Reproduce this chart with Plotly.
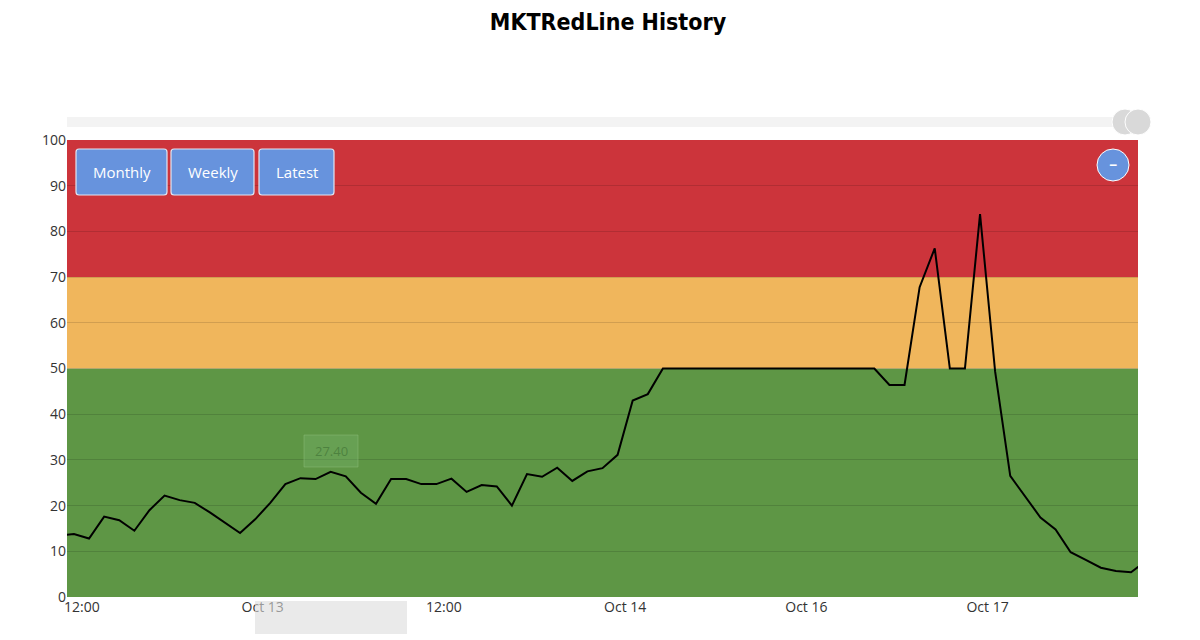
import plotly.graph_objects as go

# hourly readings (index = hour step from start of window)
idx = list(range(-1, 72))
redline = [13.4, 13.8, 12.8, 17.6, 16.8, 14.5, 19.0, 22.2, 21.2, 20.6, 18.5,
           16.3, 14.0, 17.0, 20.6, 24.7, 26.0, 25.8, 27.4, 26.4, 22.8,
           20.4, 25.8, 25.8, 24.7, 24.7, 25.9, 23.0, 24.5, 24.2, 20.0,
           26.9, 26.3, 28.3, 25.4, 27.5, 28.2, 31.1, 43.0, 44.4, 50.0,
           50, 50, 50, 50, 50, 50, 50, 50, 50, 50, 50, 50, 50, 50,
           46.4, 46.4, 67.8, 76.3, 50, 50, 83.8, 49.3, 26.5, 21.9,
           17.4, 14.8, 9.8, 8.1, 6.4, 5.7, 5.4, 7.9]

tick_pos = [0.53, 12.5, 24.5, 36.5, 48.5, 60.5]
tick_text = ["12:00", "Oct 13", "12:00", "Oct 14", "Oct 16", "Oct 17"]

bands = [(0, 50, "#5e9645"), (50, 70, "#f0b65c"), (70, 100, "#cc343b")]

button_labels = ["Monthly", "Weekly", "Latest"]
button_x = [(76, 167), (171, 254), (259, 334)]

W, H = 1071, 457  # plot area size in px


def px(x):
    return (x - 67) / W


def py(y):
    return (597 - y) / H


fig = go.Figure()
fig.add_trace(go.Scatter(x=idx, y=redline, mode="lines",
                         line=dict(color="black", width=2), hoverinfo="y"))

shapes = [dict(type="rect", xref="x domain", yref="y", x0=0, x1=1, y0=lo, y1=hi,
               fillcolor=c, line=dict(width=0), layer="below") for lo, hi, c in bands]
# top scrollbar + grips
shapes.append(dict(type="rect", xref="paper", yref="paper", x0=0, x1=1.0, y0=py(127), y1=py(117),
                   fillcolor="#f3f3f3", line=dict(width=0)))
for gx in [1125, 1138]:
    shapes.append(dict(type="circle", xref="paper", yref="paper",
                       x0=px(gx - 13), x1=px(gx + 13), y0=py(135), y1=py(109),
                       fillcolor="#d9d9d9", line=dict(color="white", width=1)))
# zoom-out button
shapes.append(dict(type="circle", xref="paper", yref="paper",
                   x0=px(1097), x1=px(1129), y0=py(181), y1=py(149),
                   fillcolor="#6793dd", line=dict(color="white", width=1)))
# tooltip box
shapes.append(dict(type="rect", xref="paper", yref="paper",
                   x0=px(304), x1=px(358), y0=py(467), y1=py(435),
                   fillcolor="rgba(120,180,110,0.35)", line=dict(color="rgba(140,190,120,0.5)", width=1)))
# bottom cursor label
shapes.append(dict(type="rect", xref="paper", yref="paper",
                   x0=px(255), x1=px(407), y0=py(634), y1=py(601),
                   fillcolor="rgba(220,220,220,0.6)", line=dict(width=0)))

# period buttons (drawn as boxes)
annotations = []
for lab, (x0, x1) in zip(button_labels, button_x):
    shapes.append(dict(type="path", xref="paper", yref="paper",
                       path=f"M {px(x0)},{py(152)} L {px(x0)},{py(192)} Q {px(x0)},{py(195)} {px(x0 + 3)},{py(195)} "
                            f"L {px(x1 - 3)},{py(195)} Q {px(x1)},{py(195)} {px(x1)},{py(192)} "
                            f"L {px(x1)},{py(152)} Q {px(x1)},{py(149)} {px(x1 - 3)},{py(149)} "
                            f"L {px(x0 + 3)},{py(149)} Q {px(x0)},{py(149)} {px(x0)},{py(152)} Z",
                       fillcolor="#6793dd", line=dict(color="#dfe6f3", width=1.2)))
    annotations.append(dict(text=lab, xref="paper", yref="paper", x=px((x0 + x1) / 2), y=py(172),
                            xanchor="center", yanchor="middle", showarrow=False,
                            font=dict(color="white", size=15)))

annotations += [
    dict(text="<b>−</b>", xref="paper", yref="paper", x=px(1113), y=py(165),
         xanchor="center", yanchor="middle", showarrow=False, font=dict(color="white", size=14)),
    dict(text="27.40", xref="paper", yref="paper", x=px(331), y=py(451),
         xanchor="center", yanchor="middle", showarrow=False,
         font=dict(color="rgba(60,110,50,0.6)", size=13)),
]

fig.update_layout(
    width=1200, height=640,
    margin=dict(l=59, r=70, t=132, b=51),
    paper_bgcolor="white", plot_bgcolor="white",
    showlegend=False,
    font=dict(family="Open Sans", size=14, color="#333"),
    title=dict(text="<b>MKTRedLine History</b>", x=0.5, y=0.978, xanchor="center", yanchor="middle",
               font=dict(family="DejaVu Sans Condensed", size=23, color="black")),
    xaxis=dict(range=[-0.46, 70.46], tickvals=tick_pos, ticktext=tick_text,
               showgrid=False, zeroline=False, ticks=""),
    yaxis=dict(range=[0, 100], dtick=10, gridcolor="rgba(0,0,0,0.13)", zeroline=False,
               ticks=""),
    shapes=shapes,
    annotations=annotations,
)
fig.write_html("out.html")
